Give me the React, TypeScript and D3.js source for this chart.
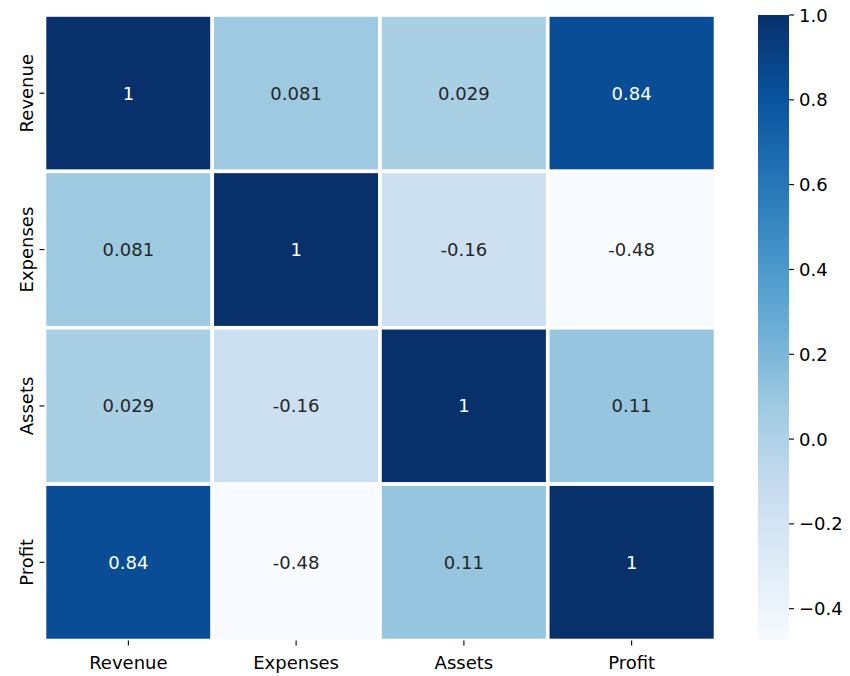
import { useEffect, useRef } from "react";
import * as d3 from "d3";

const labels = ["Revenue", "Expenses", "Assets", "Profit"];
const matrix = [
  [1, 0.081, 0.029, 0.84],
  [0.081, 1, -0.16, -0.48],
  [0.029, -0.16, 1, 0.11],
  [0.84, -0.48, 0.11, 1],
];
const annotText = [
  ["1", "0.081", "0.029", "0.84"],
  ["0.081", "1", "-0.16", "-0.48"],
  ["0.029", "-0.16", "1", "0.11"],
  ["0.84", "-0.48", "0.11", "1"],
];
const cbarTicks = [1.0, 0.8, 0.6, 0.4, 0.2, 0.0, -0.2, -0.4];
const colorMin = -0.475;
const colorMax = 1;

// matplotlib "Blues" is a plain linear ramp through these
const blues = ["#f7fbff", "#deebf7", "#c6dbef", "#9ecae1", "#6baed6", "#4292c6", "#2171b5", "#08519c", "#08306b"];

const font = "'DejaVu Sans', sans-serif";

export default function App() {
  const svgEl = useRef<SVGSVGElement>(null);

  useEffect(() => {
    const svg = d3.select(svgEl.current);
    svg.selectChildren().remove();

    const left = 44.5, right = 715.5, top = 15, bottom = 640.5;
    const x = d3.scaleBand().domain(labels).range([left, right]);
    const y = d3.scaleBand().domain(labels).range([top, bottom]);
    const ramp = d3.scaleLinear<string>()
      .domain(d3.range(blues.length).map(i => i / (blues.length - 1)))
      .range(blues)
      .interpolate(d3.interpolateRgb);
    const norm = d3.scaleLinear().domain([colorMin, colorMax]).range([0, 1]).clamp(true);
    const color = (v: number) => ramp(norm(v));

    const cells = matrix.flatMap((row, i) => row.map((v, j) => ({ i, j, v, t: annotText[i][j] })));

    const g = svg.append("g");
    g.selectAll("rect").data(cells).join("rect")
      .attr("x", d => x(labels[d.j])!)
      .attr("y", d => y(labels[d.i])!)
      .attr("width", x.bandwidth())
      .attr("height", y.bandwidth())
      .attr("fill", d => color(d.v))
      .attr("stroke", "white")
      .attr("stroke-width", 3.6);

    g.selectAll("text").data(cells).join("text")
      .attr("x", d => x(labels[d.j])! + x.bandwidth() / 2)
      .attr("y", d => y(labels[d.i])! + y.bandwidth() / 2)
      .attr("text-anchor", "middle")
      .attr("dominant-baseline", "central")
      .attr("font-family", font)
      .attr("font-size", 18)
      .attr("fill", d => {
        const c = d3.rgb(color(d.v));
        const lum = [c.r, c.g, c.b].map(u => {
          const s = u / 255;
          return s <= 0.03928 ? s / 12.92 : Math.pow((s + 0.055) / 1.055, 2.4);
        });
        const l = 0.2126 * lum[0] + 0.7152 * lum[1] + 0.0722 * lum[2];
        return l > 0.408 ? "#262626" : "white";
      })
      .text(d => d.t);

    // x axis
    const xa = svg.append("g");
    labels.forEach(l => {
      const cx = x(l)! + x.bandwidth() / 2;
      xa.append("line").attr("x1", cx).attr("x2", cx).attr("y1", bottom).attr("y2", bottom + 5)
        .attr("stroke", "black").attr("stroke-width", 1.1);
      xa.append("text").attr("x", cx).attr("y", bottom + 28)
        .attr("text-anchor", "middle").attr("font-family", font).attr("font-size", 18)
        .attr("fill", "black").text(l);
    });

    // y axis
    const ya = svg.append("g");
    labels.forEach(l => {
      const cy = y(l)! + y.bandwidth() / 2;
      ya.append("line").attr("x1", left - 5).attr("x2", left).attr("y1", cy).attr("y2", cy)
        .attr("stroke", "black").attr("stroke-width", 1.1);
      ya.append("text").attr("transform", `translate(${left - 12},${cy}) rotate(-90)`)
        .attr("text-anchor", "middle").attr("font-family", font).attr("font-size", 18)
        .attr("fill", "black").text(l);
    });

    // colorbar
    const cbL = 758, cbW = 31;
    const cy = d3.scaleLinear().domain([colorMin, colorMax]).range([bottom, top]);
    const defs = svg.append("defs");
    const grad = defs.append("linearGradient").attr("id", "cbar")
      .attr("x1", 0).attr("x2", 0).attr("y1", 1).attr("y2", 0);
    d3.range(0, 1.0001, 0.02).forEach(t => {
      grad.append("stop").attr("offset", t).attr("stop-color", ramp(t));
    });
    svg.append("rect").attr("x", cbL).attr("y", top).attr("width", cbW).attr("height", bottom - top)
      .attr("fill", "url(#cbar)");
    const ca = svg.append("g");
    cbarTicks.forEach(v => {
      const ty = cy(v);
      ca.append("line").attr("x1", cbL + cbW).attr("x2", cbL + cbW + 5).attr("y1", ty).attr("y2", ty)
        .attr("stroke", "black").attr("stroke-width", 1.1);
      ca.append("text").attr("x", cbL + cbW + 10).attr("y", ty)
        .attr("dominant-baseline", "central").attr("font-family", font).attr("font-size", 18)
        .attr("fill", "black").text(v.toFixed(1).replace("-", "\u2212"));
    });
  }, []);

  return <svg ref={svgEl} width={850} height={676} style={{ position: "absolute", left: 0, top: 0, background: "white" }}></svg>;
}
